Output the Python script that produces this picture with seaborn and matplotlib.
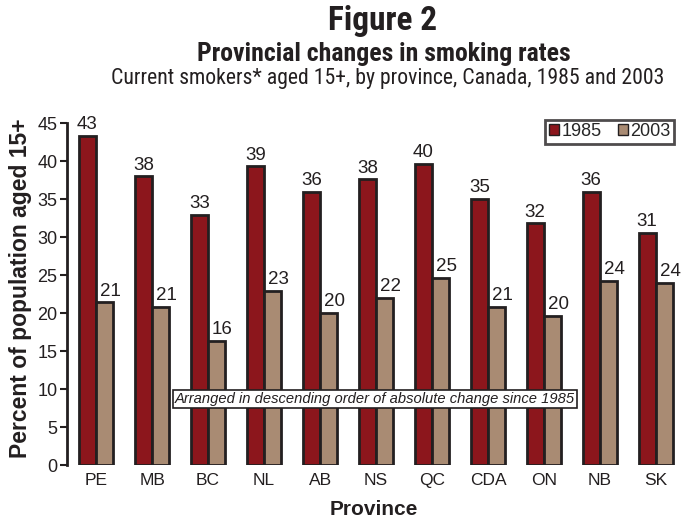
import matplotlib
matplotlib.use("Agg")
import matplotlib.pyplot as plt
from matplotlib import font_manager
import seaborn as sns
import pandas as pd

# Current smokers aged 15+ (%), by province
provinces = ["PE", "MB", "BC", "NL", "AB", "NS", "QC", "CDA", "ON", "NB", "SK"]
rate_1985 = [43.3, 38.0, 32.9, 39.3, 36.0, 37.6, 39.6, 35.0, 31.8, 35.9, 30.6]
rate_2003 = [21.4, 20.8, 16.3, 22.9, 20.0, 22.0, 24.6, 20.8, 19.6, 24.2, 24.0]
years = ["1985", "2003"]
y_ticks = [0, 5, 10, 15, 20, 25, 30, 35, 40, 45]

colors = {"1985": "#8c161c", "2003": "#a98b73"}
edge = "#231f20"
ink = "#231f20"


def pick(*names):
    have = {f.name for f in font_manager.fontManager.ttflist}
    for n in names:
        if n in have:
            return n
    return "DejaVu Sans"


sans = pick("Liberation Sans", "Arial", "DejaVu Sans")
narrow = pick("Liberation Sans Narrow", "Roboto Condensed", "Liberation Sans")

sns.set_theme(style="white")
plt.rcParams["font.family"] = [sans, "DejaVu Sans"]

df = pd.DataFrame({
    "Province": provinces * 2,
    "Year": [years[0]] * len(provinces) + [years[1]] * len(provinces),
    "Rate": rate_1985 + rate_2003,
})

fig = plt.figure(figsize=(6.84, 5.18), dpi=100)
ax = fig.add_axes([0.098, 0.1023, 0.892, 0.66])

sns.barplot(data=df, x="Province", y="Rate", hue="Year", order=provinces,
            hue_order=years, palette=colors, width=0.62, saturation=1,
            edgecolor=edge, linewidth=2, ax=ax, errorbar=None)

ax.set_ylim(0, 45)
ax.set_xlim(-0.52, 10.38)
ax.set_yticks(y_ticks)
ax.set_yticklabels([str(t) for t in y_ticks], fontsize=13, color=ink)
ax.tick_params(axis="y", left=True, length=5, width=1.5, color=ink, pad=2)
ax.tick_params(axis="x", bottom=False, labelsize=12.5, colors=ink, pad=0)
for s in ["top", "right", "bottom"]:
    ax.spines[s].set_visible(False)
ax.spines["left"].set_color(ink)
ax.spines["left"].set_linewidth(2)

ax.set_xlabel("Province", fontsize=15, fontweight="bold", color=ink)
ax.xaxis.set_label_coords(0.502, -0.102)
ax.set_ylabel("Percent of population aged 15+", fontsize=16.5,
              fontweight="bold", color=ink)
ax.yaxis.set_label_coords(-0.057, 0.518)

# value labels above each bar
offsets = [0, 4]
for cont, dx in zip(ax.containers, offsets):
    for bar in cont:
        h = bar.get_height()
        ax.annotate(f"{h:.0f}", (bar.get_x() + bar.get_width() / 2, h),
                    xytext=(dx, 2), textcoords="offset points",
                    ha="center", va="bottom", fontsize=13.5, color=ink)

leg = ax.legend(loc="upper right", bbox_to_anchor=(0.995, 1.01), ncol=2,
                frameon=True, fontsize=13, handlelength=0.55, handleheight=0.55,
                handletextpad=0.15, columnspacing=0.9, borderpad=0.2,
                borderaxespad=0.0, fancybox=False, edgecolor=ink)
leg.get_frame().set_linewidth(2)
for h in leg.legend_handles:
    h.set_edgecolor(edge)
    h.set_linewidth(1)

ax.text(0.505, 8.7, "Arranged in descending order of absolute change since 1985",
        transform=ax.get_yaxis_transform(), ha="center", va="center",
        fontsize=10.6, style="italic", color=ink,
        bbox=dict(boxstyle="square,pad=0.12", facecolor="white",
                  edgecolor=ink, linewidth=1.2))

fig.text(0.559, 0.99, "Figure 2", ha="center", va="top", fontsize=24,
         fontweight="bold", family=narrow, color=ink)
fig.text(0.561, 0.918, "Provincial changes in smoking rates", ha="center",
         va="top", fontsize=18.5, fontweight="bold", family=narrow, color=ink)
fig.text(0.566, 0.868, "Current smokers* aged 15+, by province, Canada, 1985 and 2003",
         ha="center", va="top", fontsize=15.7, family=narrow, color=ink)

fig.savefig("out.png", dpi=100, facecolor="white")
